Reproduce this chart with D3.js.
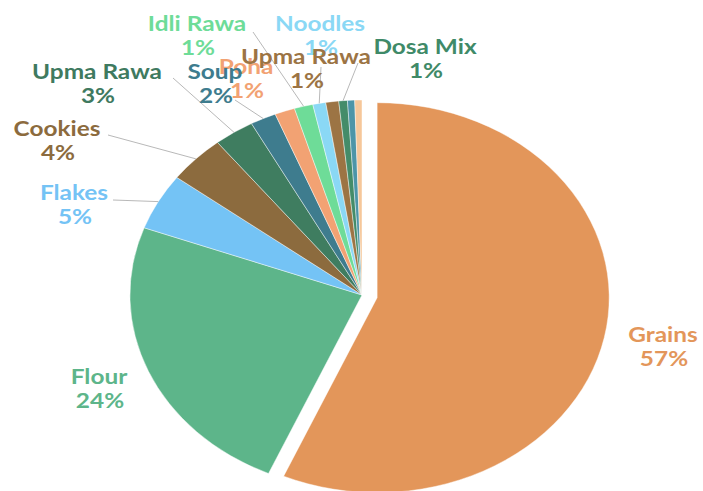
<!DOCTYPE html>
<html>
<head>
<meta charset="utf-8">
<script src="https://cdn.jsdelivr.net/npm/d3@7"></script>
<style>
  body { margin: 0; background: #fff; }
  text { font-family: Lato, "Open Sans", sans-serif; font-weight: bold; }
</style>
</head>
<body>
<div id="chart"></div>
<script>
const categories = ['Grains', 'Flour', 'Flakes', 'Cookies', 'Upma Rawa', 'Soup', 'Poha',
  'Idli Rawa', 'Noodles', 'Upma Rawa', 'Dosa Mix', 'Other A', 'Other B']
const values = [56.6, 24.0, 4.7, 4.0, 2.8, 1.8, 1.4, 1.3, 0.9, 0.9, 0.6, 0.5, 0.5]
const colors = ['#e3965a', '#5db58a', '#74c3f5', '#8c6b3e', '#3f7d60', '#3e7c8e', '#f2a273',
  '#6edc98', '#8ad8f5', '#9c7444', '#448c69', '#4c95a8', '#f6c79a']
const labelColors = ['#e3965a', '#5db58a', '#74c3f5', '#8c6b3e', '#3f7a5f', '#3e7c8e', '#f2a273',
  '#6edc98', '#8ad8f5', '#9c7444', '#3f8a68', null, null]

// label layout: [cx, cy of name line, leader start x, y] (null = no label / no leader)
const labelPos = [
  [663, 335, null], [99, 377, null], [74, 193, [113, 200]], [57, 129, [108, 135]],
  [97, 72, [173, 78]], [215, 72, [235, 100]], [246, 67, null], [197, 24, [253, 32]],
  [320, 24, [321, 67]], [306, 57, null], [425, 47, [358, 63]], null, null
]
const drawOrder = [0, 1, 2, 3, 4, 6, 5, 7, 8, 9, 10]

const width = 703, height = 491
const cx = 362, cy = 295, r = 195, sx = 1.19, explode = 13

const svg = d3.select('#chart').append('svg')
  .attr('width', width).attr('height', height)

const data = categories.map((c, i) => ({ name: c, value: values[i], i }))
const total = d3.sum(values)

const pie = d3.pie().value(d => d.value).sort(null)
const arcs = pie(data)
const arc = d3.arc().innerRadius(0).outerRadius(r)

const g = svg.append('g')
  .attr('transform', `translate(${cx},${cy}) scale(${sx},1)`)

g.selectAll('path')
  .data(arcs)
  .join('path')
  .attr('d', arc)
  .attr('fill', d => colors[d.data.i])
  .attr('stroke', '#fff')
  .attr('stroke-width', 0.4)
  .attr('transform', d => {
    if (d.data.i !== 0) return null
    const a = (d.startAngle + d.endAngle) / 2
    return `translate(${Math.sin(a) * explode},${-Math.cos(a) * explode})`
  })

// leader lines to the middle of each slice's outer edge
const edge = d => {
  const a = (d.startAngle + d.endAngle) / 2
  return [cx + Math.sin(a) * r * sx, cy - Math.cos(a) * r]
}

svg.selectAll('.leader')
  .data(arcs.filter(d => labelPos[d.data.i] && labelPos[d.data.i][2]))
  .join('line')
  .attr('class', 'leader')
  .attr('x1', d => labelPos[d.data.i][2][0])
  .attr('y1', d => labelPos[d.data.i][2][1])
  .attr('x2', d => edge(d)[0])
  .attr('y2', d => edge(d)[1])
  .attr('stroke', '#a6a6a6')
  .attr('stroke-width', 0.8)

const labels = svg.selectAll('.label')
  .data(drawOrder.map(i => arcs[i]))
  .join('g')
  .attr('class', 'label')
  .attr('fill', d => labelColors[d.data.i])
  .attr('font-size', 20)
  .attr('text-anchor', 'middle')

labels.append('text')
  .attr('transform', d => `translate(${labelPos[d.data.i][0]},${labelPos[d.data.i][1] + 7}) scale(1.22,1)`)
  .text(d => d.data.name)

labels.append('text')
  .attr('transform', d => `translate(${labelPos[d.data.i][0] + 1},${labelPos[d.data.i][1] + 31}) scale(1.22,1)`)
  .text(d => Math.round(d.data.value / total * 100) + '%')
</script>
</body>
</html>
